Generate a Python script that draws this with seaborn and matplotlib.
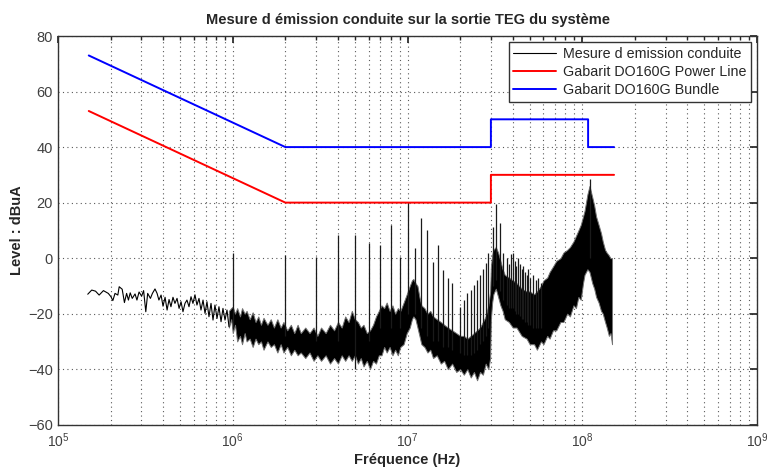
import matplotlib
matplotlib.use("Agg")
import matplotlib.pyplot as plt
import seaborn as sns
import pandas as pd
from matplotlib.ticker import LogLocator, NullFormatter, NullLocator

# -----------------------------
# Data
# -----------------------------
# thin trace at low frequency (Hz, dBuA)
lf_freq = [1.48e5, 1.56e5, 1.64e5, 1.72e5, 1.82e5, 1.94e5, 2.01e5, 2.06e5,
           2.12e5, 2.20e5, 2.24e5, 2.33e5, 2.40e5, 2.47e5, 2.53e5, 2.59e5,
           2.66e5, 2.76e5, 2.83e5, 2.91e5, 3.01e5, 3.09e5, 3.18e5, 3.26e5,
           3.38e5, 3.47e5, 3.59e5, 3.69e5, 3.78e5, 3.89e5, 3.99e5, 4.10e5,
           4.21e5, 4.32e5, 4.43e5, 4.55e5, 4.67e5, 4.80e5, 4.93e5, 5.06e5,
           5.19e5, 5.33e5, 5.47e5, 5.62e5, 5.77e5, 5.92e5, 6.08e5, 6.24e5,
           6.41e5, 6.58e5, 6.76e5, 6.94e5, 7.12e5, 7.31e5, 7.51e5, 7.71e5,
           7.91e5, 8.13e5, 8.34e5, 8.57e5, 8.79e5, 9.03e5, 9.27e5, 9.52e5]
lf_level = [-13.0, -11.5, -11.9, -13.3, -11.7, -12.7, -13.9, -15.3,
            -12.7, -13.3, -10.3, -11.2, -16.0, -12.7, -15.1, -12.5,
            -14.5, -12.9, -15.1, -12.2, -13.7, -11.7, -19.3, -12.7,
            -14.5, -12.7, -11.1, -12.7, -15.1, -13.3, -17.3, -14.1,
            -18.7, -14.9, -17.5, -14.1, -16.3, -14.5, -18.1, -15.7,
            -19.3, -16.3, -15.1, -17.5, -13.9, -16.3, -13.2, -16.9,
            -14.5, -18.7, -15.1, -19.9, -15.7, -21.1, -16.3, -22.3,
            -16.9, -21.7, -17.5, -22.9, -18.1, -22.3, -18.7, -24.7]

# dense noise envelope above 1 MHz (Hz, low dBuA, high dBuA)
band_freq = [9.5e5, 9.8e5, 1.0e6, 1.03e6, 1.06e6, 1.1e6, 1.13e6, 1.17e6,
             1.2e6, 1.25e6, 1.3e6, 1.35e6, 1.4e6, 1.45e6, 1.5e6, 1.58e6,
             1.65e6, 1.72e6, 1.8e6, 1.88e6, 1.95e6,
             2.05e6, 2.15e6, 2.25e6, 2.35e6, 2.45e6, 2.6e6, 2.75e6, 2.9e6,
             3.05e6, 3.2e6, 3.4e6, 3.6e6, 3.8e6, 4.0e6, 4.2e6, 4.4e6,
             4.6e6, 4.8e6, 5.0e6, 5.2e6, 5.4e6, 5.6e6, 5.85e6, 6.1e6,
             6.35e6, 6.6e6, 6.85e6, 7.1e6, 7.35e6, 7.6e6, 7.9e6, 8.2e6,
             8.5e6, 8.8e6, 9.1e6, 9.5e6, 9.9e6, 1.03e7, 1.06e7, 1.08e7,
             1.11e7, 1.14e7, 1.17e7,
             1.2e7, 1.25e7, 1.3e7, 1.35e7, 1.4e7, 1.47e7, 1.55e7, 1.62e7,
             1.7e7, 1.8e7, 1.9e7, 2.0e7, 2.1e7, 2.2e7, 2.3e7, 2.4e7,
             2.5e7, 2.6e7, 2.7e7, 2.8e7, 2.9e7, 2.97e7,
             3.0e7, 3.05e7, 3.1e7, 3.2e7, 3.3e7, 3.4e7, 3.5e7, 3.6e7,
             3.8e7, 4.0e7, 4.2e7, 4.5e7, 4.8e7, 5.0e7, 5.3e7, 5.5e7,
             5.8e7, 6.0e7, 6.3e7, 6.5e7,
             6.8e7, 7.1e7, 7.5e7, 7.8e7, 8.2e7, 8.5e7, 8.9e7, 9.2e7,
             9.5e7, 9.8e7, 1.01e8, 1.03e8, 1.05e8, 1.07e8, 1.1e8, 1.12e8,
             1.14e8, 1.17e8, 1.2e8, 1.24e8, 1.28e8, 1.31e8, 1.35e8, 1.38e8,
             1.42e8, 1.45e8, 1.48e8]
band_lo = [-25, -22, -27, -24, -30, -28, -31, -27,
           -30, -29, -32, -29, -31, -30, -33, -30,
           -32, -31, -34, -31, -34,
           -32, -35, -33, -35, -34, -36, -34, -37,
           -35, -37, -35, -38, -36, -38, -35, -37,
           -35, -37, -35, -38, -36, -39, -37, -40,
           -37, -38, -35, -35, -32, -34, -32, -35,
           -33, -35, -32, -31, -27, -25, -22, -21,
           -22, -25, -28,
           -31, -32, -34, -33, -36, -35, -38, -37,
           -40, -38, -41, -40, -42, -40, -43, -41,
           -44, -41, -42, -38, -40, -36,
           -22, -16, -13, -11, -14, -17, -19, -22,
           -23, -25, -25, -28, -29, -31, -31, -33,
           -30, -31, -28, -29,
           -26, -26, -23, -23, -20, -21, -17, -18,
           -14, -15, -9, -6, -5, -4, -5, -7,
           -9, -11, -14, -16, -19, -20, -23, -25,
           -28, -27, -31]
band_hi = [-19, -18, -17.5, -20, -18, -21, -18, -20,
           -19, -22, -19.5, -23, -21, -24, -21.5, -24,
           -22, -25, -22, -25, -23,
           -26, -24, -27, -24, -27, -25, -27, -25,
           -28, -25, -27, -24, -26, -23, -25, -21,
           -23, -19, -22, -23, -25, -24, -27, -26,
           -24, -21, -19, -17, -18, -16, -19, -17,
           -20, -18, -19, -16, -13, -10, -8, -7.5,
           -9, -10, -14,
           -17, -18, -20, -19, -21, -22, -23, -24,
           -25, -26, -27, -28, -28, -29, -28, -27,
           -26, -25, -23, -21, -17, -12,
           -3, 1, 3, 4, 2, -1, -4, -6,
           -7, -8, -9, -11, -12, -12, -13, -12,
           -10, -8, -7, -5,
           -3, -1, 0, 2, 3, 4, 6, 8,
           10, 12, 15, 17, 20, 23, 26, 24,
           22, 19, 15, 12, 9, 6, 3, 2,
           1, 0, 0]

# harmonic spikes (Hz, top dBuA, base dBuA)
spike_freq = [1e6, 2e6, 3e6, 4e6, 5e6, 6e6, 7e6, 8e6, 9e6, 1e7,
              1.1e7, 1.2e7, 1.3e7, 1.4e7, 1.5e7, 1.6e7, 1.7e7, 1.8e7,
              2.0e7, 2.1e7, 2.2e7, 2.3e7, 2.4e7, 2.5e7, 2.6e7, 2.7e7,
              2.8e7, 2.9e7, 3.1e7, 3.2e7, 3.4e7, 3.5e7, 3.7e7, 3.8e7,
              3.9e7, 4.0e7, 4.1e7, 4.2e7, 4.3e7, 4.4e7, 4.5e7, 4.6e7,
              4.7e7, 4.8e7, 4.9e7, 5.0e7, 5.2e7, 5.4e7, 5.6e7, 5.8e7,
              1.1e8]
spike_top = [2, 1, 0.5, 8.3, 8.3, 5.5, 4.7, 11.9, 0.5, 20.3,
             3.5, 14.6, 10.1, -1.3, 4.7, -4.3, -7.3, -9.1,
             -17.5, -15, -12.5, -11.5, -9.7, -7.9, -6.1, -4,
             -1.9, 1.7, 11.3, 19.5, 12.6, 2, 0, -2,
             1.5, 1.7, -1, -3, 0, -2, -4, -3,
             -5, -6, -4, -7, -6, -8, -7, -9,
             28.5]
spike_base = [-25, -28, -30, -30, -40, -30, -25, -25, -25, -20,
              -20, -25, -28, -30, -30, -32, -32, -33,
              -34, -35, -35, -35, -34, -33, -31, -30,
              -28, -25, -10, -8, -12, -15, -17, -18,
              -18, -18, -19, -20, -20, -21, -22, -22,
              -23, -23, -24, -24, -25, -25, -25, -25,
              0]

# DO160G limits
pl_freq = [1.5e5, 2e6, 3e7, 3e7, 1.52e8]
pl_level = [53, 20, 20, 30, 30]
bd_freq = [1.5e5, 2e6, 3e7, 3e7, 1.08e8, 1.08e8, 1.52e8]
bd_level = [73, 40, 40, 50, 50, 40, 40]

# -----------------------------
# Figure
# -----------------------------
sns.set_theme(style="white")
plt.rcParams["font.family"] = ["Liberation Sans", "DejaVu Sans"]
plt.rcParams["mathtext.fontset"] = "custom"
plt.rcParams["mathtext.rm"] = "Liberation Sans"

fig = plt.figure(figsize=(7.67, 4.68), dpi=100)
ax = fig.add_axes([0.0756, 0.0925, 0.9114, 0.8305])

ax.fill_between(band_freq, band_lo, band_hi, color="black",
                edgecolor="0.45", linewidth=0.7, zorder=3)
ax.vlines(spike_freq, spike_base, spike_top, color="0.1",
          linewidth=0.9, zorder=3)

lf_df = pd.DataFrame({"f": lf_freq, "level": lf_level})
sns.lineplot(data=lf_df, x="f", y="level", ax=ax, color="black",
             linewidth=0.8, estimator=None, sort=False, zorder=3,
             label="Mesure d emission conduite")

pl_df = pd.DataFrame({"f": pl_freq, "level": pl_level})
sns.lineplot(data=pl_df, x="f", y="level", ax=ax, color="#ff0000",
             linewidth=1.4, estimator=None, sort=False, zorder=4,
             label="Gabarit DO160G Power Line")

bd_df = pd.DataFrame({"f": bd_freq, "level": bd_level})
sns.lineplot(data=bd_df, x="f", y="level", ax=ax, color="#0000ff",
             linewidth=1.4, estimator=None, sort=False, zorder=4,
             label="Gabarit DO160G Bundle")

ax.set_xscale("log")
ax.set_xlim(1e5, 1e9)
ax.set_ylim(-60, 80)
ax.set_yticks(range(-60, 81, 20))
ax.yaxis.set_minor_locator(NullLocator())
ax.xaxis.set_minor_locator(LogLocator(base=10, subs=range(2, 10)))
ax.xaxis.set_minor_formatter(NullFormatter())

# MATLAB-like dotted grid and inward ticks
ax.grid(True, which="major", axis="both", linestyle=(0, (1, 3)),
        color="0.35", linewidth=0.8)
ax.grid(True, which="minor", axis="x", linestyle=(0, (1, 3)),
        color="0.35", linewidth=0.8)
ax.tick_params(which="both", direction="in", top=True, right=True,
               colors="0.15", labelcolor="0.25")
ax.tick_params(axis="y", labelsize=10.5)
ax.tick_params(axis="x", labelsize=10, pad=5)
ax.tick_params(which="major", length=5)
ax.tick_params(which="minor", length=3)
for spine in ax.spines.values():
    spine.set_color("0.2")
    spine.set_linewidth(1.0)

ax.set_xlabel("Fréquence (Hz)", fontsize=10.5, fontweight="bold", labelpad=2)
ax.set_ylabel("Level : dBuA", fontsize=10.5, fontweight="bold", labelpad=3)
ax.set_title("Mesure d émission conduite sur la sortie TEG du système",
             fontsize=10.5, fontweight="bold", pad=9)

leg = ax.legend(loc="upper right", fontsize=10.3, frameon=True, fancybox=False,
                framealpha=1, edgecolor="0.2", borderaxespad=0.45,
                handlelength=3.0, handletextpad=0.45, labelspacing=0.3,
                borderpad=0.3)
leg.get_frame().set_linewidth(1.0)
leg.set_zorder(10)

plt.savefig("out.png", dpi=100)
plt.close()
